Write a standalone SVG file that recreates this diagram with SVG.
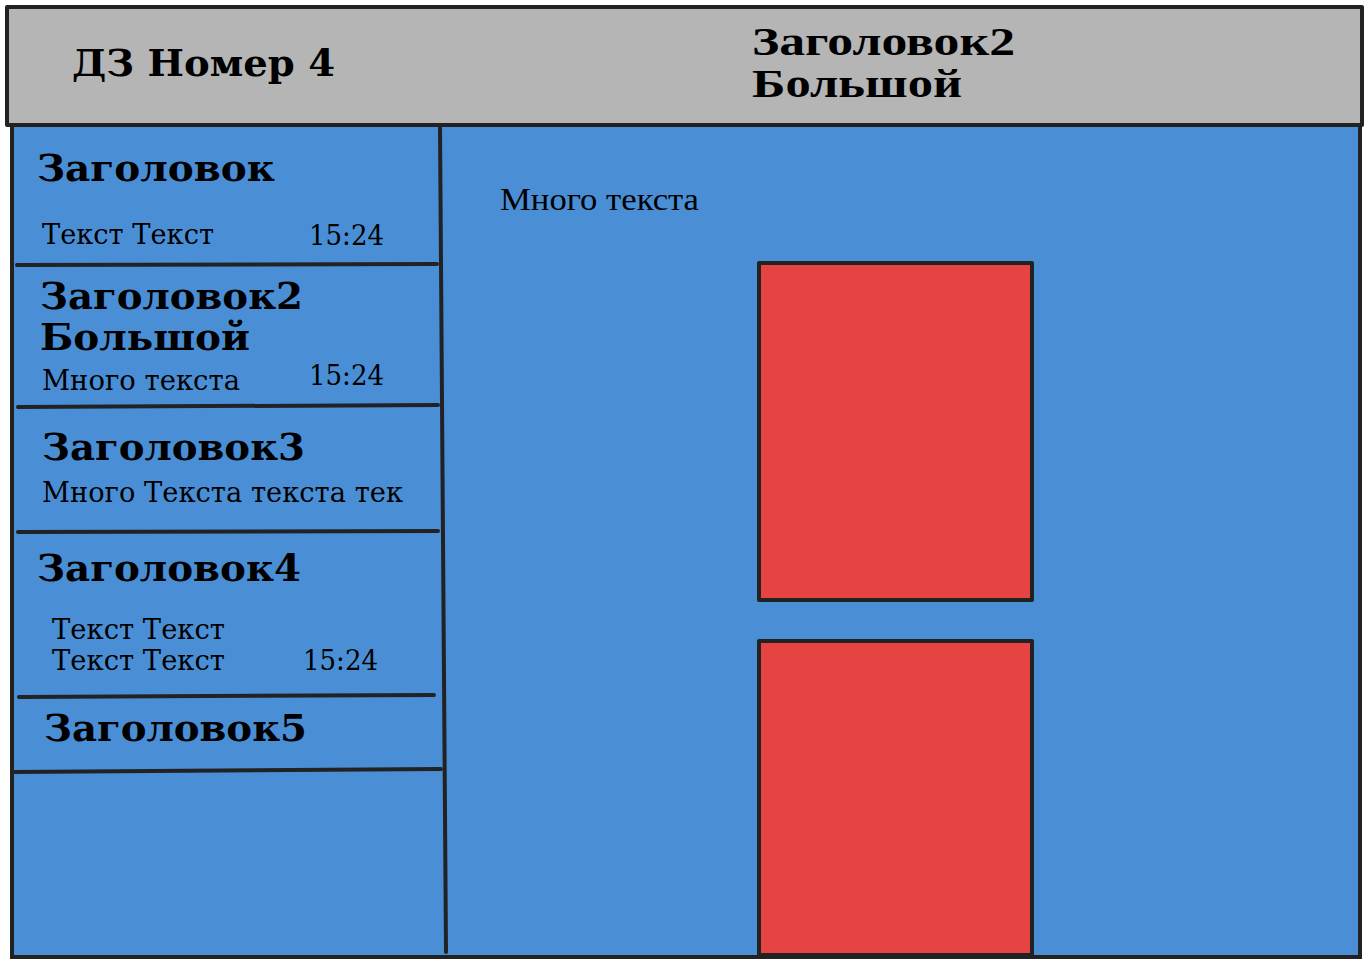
<svg xmlns="http://www.w3.org/2000/svg" width="1370" height="966" viewBox="0 0 1370 966">
<style>
.ln{stroke:#222;stroke-width:4;stroke-linecap:round;fill:none}
.hd{font-family:"DejaVu Serif","Liberation Serif",serif;font-weight:bold;font-size:38px;fill:#000}
.tx{font-family:"DejaVu Serif","Liberation Serif",serif;font-size:27px;fill:#000}
.tm{font-family:"Liberation Serif",serif;fill:#000}
</style>
<rect width="1370" height="966" fill="#ffffff"/>
<g id="main">
<rect x="12" y="125" width="1348" height="832" fill="#4a8fd6" stroke="#222" stroke-width="4"/>
</g>
<g id="header">
<rect x="7" y="7" width="1355" height="118" fill="#b5b5b5" stroke="#222" stroke-width="4" stroke-linejoin="round"/>
<text class="hd" x="72" y="76" textLength="263" lengthAdjust="spacingAndGlyphs">ДЗ Номер 4</text>
<text class="tm" x="752" y="55" font-size="40" font-weight="bold" textLength="263" lengthAdjust="spacingAndGlyphs">Заголовок2</text>
<text class="tm" x="752" y="97" font-size="40" font-weight="bold" textLength="210" lengthAdjust="spacingAndGlyphs">Большой</text>
</g>
<g id="connectors">
<path class="ln" d="M440 127 L446 952"/>
<path class="ln" d="M17 265 L437 264"/>
<path class="ln" d="M18 407 L438 405"/>
<path class="ln" d="M18 532 L438 531"/>
<path class="ln" d="M19 697 L434 695"/>
<path class="ln" d="M14 772 L441 769"/>
</g>
<g id="item1">
<text class="hd" x="37" y="181" textLength="238" lengthAdjust="spacingAndGlyphs">Заголовок</text>
<text class="tx" x="42" y="244" textLength="172" lengthAdjust="spacingAndGlyphs">Текст Текст</text>
<text class="tx" x="309" y="245" textLength="75" lengthAdjust="spacingAndGlyphs">15:24</text>
</g>
<g id="item2">
<text class="hd" x="40" y="309" textLength="263" lengthAdjust="spacingAndGlyphs">Заголовок2</text>
<text class="hd" x="40" y="350" textLength="210" lengthAdjust="spacingAndGlyphs">Большой</text>
<text class="tx" x="42" y="390" textLength="198" lengthAdjust="spacingAndGlyphs">Много текста</text>
<text class="tx" x="309" y="385" textLength="75" lengthAdjust="spacingAndGlyphs">15:24</text>
</g>
<g id="item3">
<text class="hd" x="42" y="460" textLength="263" lengthAdjust="spacingAndGlyphs">Заголовок3</text>
<text class="tx" x="42" y="502" textLength="361" lengthAdjust="spacingAndGlyphs">Много Текста текста тек</text>
</g>
<g id="item4">
<text class="hd" x="37" y="581" textLength="264" lengthAdjust="spacingAndGlyphs">Заголовок4</text>
<text class="tx" x="52" y="639" textLength="173" lengthAdjust="spacingAndGlyphs">Текст Текст</text>
<text class="tx" x="52" y="670" textLength="173" lengthAdjust="spacingAndGlyphs">Текст Текст</text>
<text class="tx" x="303" y="670" textLength="75" lengthAdjust="spacingAndGlyphs">15:24</text>
</g>
<g id="item5">
<text class="hd" x="44" y="741" textLength="263" lengthAdjust="spacingAndGlyphs">Заголовок5</text>
</g>
<g id="content">
<text class="tm" x="500" y="210" font-size="31" textLength="199" lengthAdjust="spacingAndGlyphs">Много текста</text>
</g>
<g id="block1">
<rect x="759" y="263" width="273" height="337" fill="#e64343" stroke="#222" stroke-width="4" stroke-linejoin="round"/>
</g>
<g id="block2">
<rect x="759" y="641" width="273" height="314" fill="#e64343" stroke="#222" stroke-width="4" stroke-linejoin="round"/>
</g>
</svg>
